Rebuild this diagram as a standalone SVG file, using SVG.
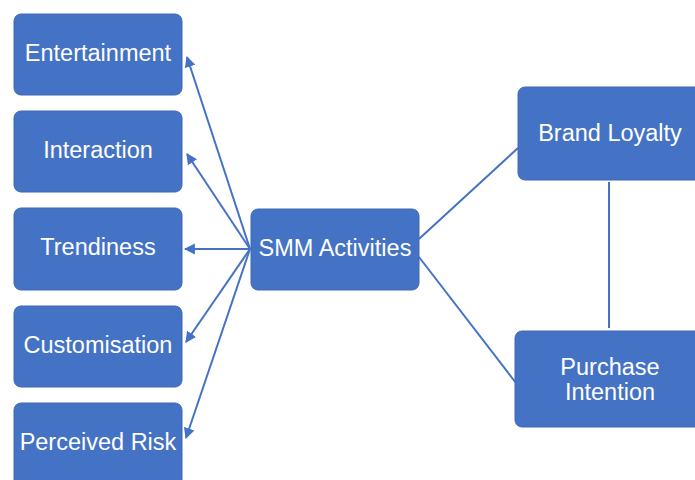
<svg xmlns="http://www.w3.org/2000/svg" width="695" height="480" viewBox="0 0 695 480">
<style>
.box{fill:#4472C4;stroke:#3f69b5;stroke-width:1}
.t{fill:#fff;font-family:"Liberation Sans",Arial,sans-serif;font-size:23.5px;text-anchor:middle}
.c{stroke:#4472C4;stroke-width:2;fill:none}
</style>
<defs>
<marker id="ah" viewBox="0 0 10 10" refX="9" refY="5" markerWidth="5.5" markerHeight="6" orient="auto" markerUnits="strokeWidth">
<path d="M0,0 L10,5 L0,10 z" fill="#4472C4"/>
</marker>
</defs>
<rect width="695" height="480" fill="#fff"/>
<g id="connectors">
<line class="c" x1="250" y1="249" x2="187" y2="57" marker-end="url(#ah)"/>
<line class="c" x1="250" y1="249" x2="187" y2="154" marker-end="url(#ah)"/>
<line class="c" x1="250" y1="249" x2="185" y2="249" marker-end="url(#ah)"/>
<line class="c" x1="250" y1="249" x2="186" y2="342" marker-end="url(#ah)"/>
<line class="c" x1="250" y1="249" x2="186" y2="438" marker-end="url(#ah)"/>
<line class="c" x1="419" y1="239" x2="518" y2="148"/>
<line class="c" x1="419" y1="257" x2="516" y2="383"/>
<line class="c" x1="609" y1="182" x2="609" y2="328"/>
</g>
<g id="entertainment"><rect class="box" x="14" y="14" width="168" height="81" rx="7"/><text class="t" x="98" y="61">Entertainment</text></g>
<g id="interaction"><rect class="box" x="14" y="111" width="168" height="81" rx="7"/><text class="t" x="98" y="158">Interaction</text></g>
<g id="trendiness"><rect class="box" x="14" y="208" width="168" height="82" rx="7"/><text class="t" x="98" y="255">Trendiness</text></g>
<g id="customisation"><rect class="box" x="14" y="306" width="168" height="81" rx="7"/><text class="t" x="98" y="353">Customisation</text></g>
<g id="perceived-risk"><rect class="box" x="14" y="403" width="168" height="90" rx="7"/><text class="t" x="98" y="450">Perceived Risk</text></g>
<g id="smm"><rect class="box" x="251" y="209" width="168" height="81" rx="7"/><text class="t" x="335" y="256">SMM Activities</text></g>
<g id="brand-loyalty"><rect class="box" x="518" y="87" width="190" height="93" rx="7"/><text class="t" x="610" y="141">Brand Loyalty</text></g>
<g id="purchase-intention"><rect class="box" x="515" y="331" width="190" height="96" rx="7"/><text class="t" x="610" y="375">Purchase</text><text class="t" x="610" y="400">Intention</text></g>
</svg>
